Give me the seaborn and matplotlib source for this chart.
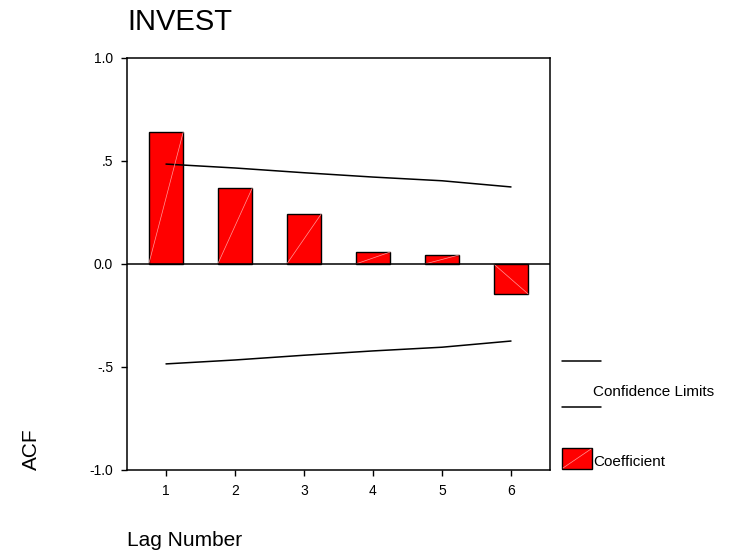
import matplotlib
matplotlib.use('Agg')

import matplotlib.pyplot as plt
import numpy as np
import pandas as pd
import seaborn as sns
from matplotlib.lines import Line2D
from matplotlib.patches import Rectangle

lags = [1, 2, 3, 4, 5, 6]
acf = [0.641, 0.369, 0.243, 0.058, 0.044, -0.146]
upper = [0.485, 0.466, 0.443, 0.422, 0.404, 0.374]
lower = [-0.485, -0.466, -0.443, -0.422, -0.404, -0.374]
yticks = [-1.0, -0.5, 0.0, 0.5, 1.0]
ytick_labels = ['-1.0', '-.5', '0.0', '.5', '1.0']


def main():
    sns.set_theme(style='white')
    plt.rcParams['font.family'] = ['Liberation Sans', 'DejaVu Sans']
    plt.rcParams['text.color'] = 'black'
    plt.rcParams['axes.labelcolor'] = 'black'
    plt.rcParams['xtick.color'] = 'black'
    plt.rcParams['ytick.color'] = 'black'

    df = pd.DataFrame({'lag': lags, 'acf': acf, 'upper': upper, 'lower': lower})

    fig = plt.figure(figsize=(7.42, 5.56), dpi=100)
    ax = fig.add_axes([0.1712, 0.1547, 0.570, 0.741])

    sns.barplot(data=df, x='lag', y='acf', native_scale=True, width=0.5,
                color='#ff0000', saturation=1, edgecolor='black', linewidth=1,
                ax=ax)

    # faint diagonal inside each bar, like the SPSS fill
    for p in ax.patches:
        x0, y0 = p.get_x(), p.get_y()
        w, h = p.get_width(), p.get_height()
        ax.plot([x0, x0 + w], [y0, y0 + h], color='#ff9a9a', lw=0.5, zorder=3)

    sns.lineplot(data=df, x='lag', y='upper', color='black', lw=1.1, ax=ax)
    sns.lineplot(data=df, x='lag', y='lower', color='black', lw=1.1, ax=ax)
    ax.axhline(0, color='black', lw=1.1, zorder=4)

    ax.set_xlim(0.435, 6.565)
    ax.set_ylim(-1.0, 1.0)
    ax.set_xticks(lags)
    ax.set_xticklabels([str(l) for l in lags], fontsize=10)
    ax.set_yticks(yticks)
    ax.set_yticklabels(ytick_labels, fontsize=10)
    ax.tick_params(axis='both', direction='out', length=4, width=1,
                   color='black', bottom=True, left=True, pad=6)

    for s in ax.spines.values():
        s.set_color('black')
        s.set_linewidth(1.1)

    ax.set_xlabel('Lag Number', fontsize=15, loc='left', labelpad=24)
    ax.set_ylabel('ACF', fontsize=15, loc='bottom', labelpad=35)
    ax.set_title('INVEST', fontsize=21, loc='left', pad=20)

    # legend in SPSS layout
    W, H = 742, 556
    fig.add_artist(Line2D([562 / W, 601 / W], [1 - 361 / H, 1 - 361 / H],
                          color='black', lw=1.1))
    fig.add_artist(Line2D([562 / W, 601 / W], [1 - 407 / H, 1 - 407 / H],
                          color='black', lw=1.1))
    fig.text(593 / W, 1 - 392 / H, 'Confidence Limits', fontsize=11,
             va='center', ha='left')
    fig.add_artist(Rectangle((562 / W, 1 - 469 / H), 30 / W, 21 / H,
                             facecolor='#ff0000', edgecolor='black', lw=1,
                             transform=fig.transFigure))
    fig.add_artist(Line2D([563 / W, 591 / W], [1 - 468 / H, 1 - 449 / H],
                          color='#ff9a9a', lw=0.5))
    fig.text(593 / W, 1 - 462 / H, 'Coefficient', fontsize=11,
             va='center', ha='left')

    fig.savefig('out.png', dpi=100)
    plt.close(fig)


if __name__ == '__main__':
    main()
